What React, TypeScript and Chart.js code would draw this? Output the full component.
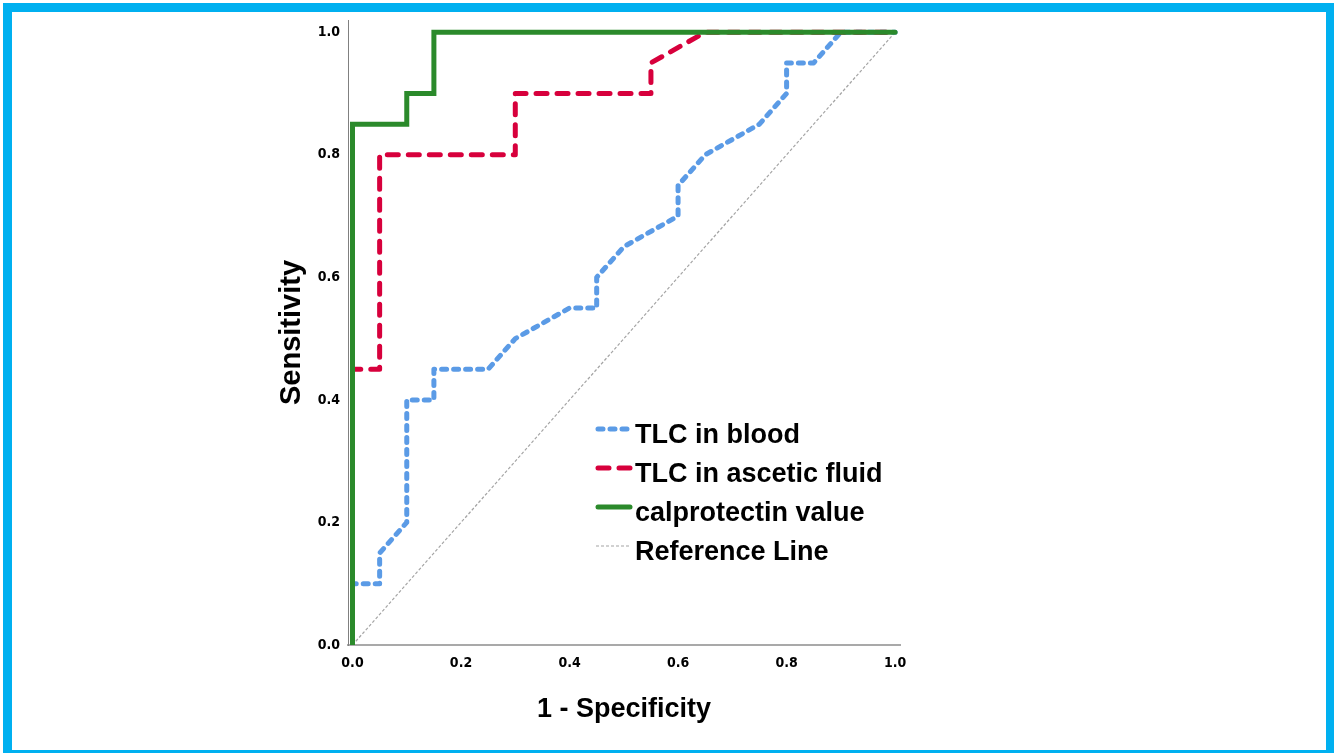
import React, { useEffect, useRef } from 'react';
import { Chart, registerables } from 'chart.js';

Chart.register(...registerables);

// ROC curve data (1 - specificity, sensitivity)
const bloodFpr = [0, 0, 0.05, 0.05, 0.1, 0.1, 0.15, 0.15, 0.25, 0.3, 0.4, 0.45, 0.45, 0.5, 0.6, 0.6, 0.65, 0.75, 0.8, 0.8, 0.85, 0.9, 1];
const bloodTpr = [0, 0.1, 0.1, 0.15, 0.2, 0.4, 0.4, 0.45, 0.45, 0.5, 0.55, 0.55, 0.6, 0.65, 0.7, 0.75, 0.8, 0.85, 0.9, 0.95, 0.95, 1, 1];
const fluidFpr = [0, 0, 0.05, 0.05, 0.3, 0.3, 0.55, 0.55, 0.65, 1];
const fluidTpr = [0, 0.45, 0.45, 0.8, 0.8, 0.9, 0.9, 0.95, 1, 1];
const calproFpr = [0, 0, 0.1, 0.1, 0.15, 0.15, 1];
const calproTpr = [0, 0.85, 0.85, 0.9, 0.9, 1, 1];
const refFpr = [0, 1];
const refTpr = [0, 1];

const tickValues = [0, 0.2, 0.4, 0.6, 0.8, 1];
const tickLabels = ['0.0', '0.2', '0.4', '0.6', '0.8', '1.0'];

const seriesLabels = ['TLC in blood', 'TLC in ascetic fluid', 'calprotectin value', 'Reference Line'];
const seriesColors = ['#5b9be6', '#d7003c', '#2b8a2b', '#a4a4a4'];
const seriesWidths = [5, 5, 5, 1.2];
const seriesDashes: number[][] = [[5, 7], [11, 10], [], [3, 2]];
const seriesCaps = ['round', 'round', 'round', 'butt'];
const seriesJoins = ['round', 'round', 'miter', 'miter'];
const seriesOrder = [2, 1, 0, 3];

const xTitle = '1 - Specificity';
const yTitle = 'Sensitivity';

const SANS = '"Liberation Sans", Arial, Helvetica, sans-serif';
const NARROW = '"Liberation Sans Narrow", "Arial Narrow", "DejaVu Sans Condensed", sans-serif';

const legendPlugin = {
  id: 'rocLegend',
  afterDatasetsDraw(chart: any) {
    const ctx = chart.ctx as CanvasRenderingContext2D;
    const x0 = 597;
    const x1 = 631;
    const textX = 635;
    const firstY = 429;
    const step = 39;
    ctx.save();
    seriesLabels.forEach((label, i) => {
      const y = firstY + i * step;
      ctx.beginPath();
      ctx.strokeStyle = seriesColors[i];
      ctx.lineWidth = seriesWidths[i];
      ctx.setLineDash(seriesDashes[i]);
      ctx.lineCap = seriesCaps[i] as CanvasLineCap;
      const xa = i === 3 ? 596 : x0 + (seriesCaps[i] === 'round' ? 1 : 0);
      const xb = i === 3 ? 629 : x1 - (seriesCaps[i] === 'round' ? 1 : 0);
      ctx.moveTo(xa, y);
      ctx.lineTo(xb, y);
      ctx.stroke();
      ctx.setLineDash([]);
      ctx.fillStyle = '#000';
      ctx.font = `bold 27px ${SANS}`;
      ctx.textAlign = 'left';
      ctx.textBaseline = 'alphabetic';
      ctx.fillText(label, textX, y + 14);
    });
    ctx.restore();
  },
};

export default function App() {
  const canvasRef = useRef<HTMLCanvasElement>(null);

  useEffect(() => {
    const toPts = (xs: number[], ys: number[]) => xs.map((x, i) => ({ x, y: ys[i] }));
    const series = [
      toPts(bloodFpr, bloodTpr),
      toPts(fluidFpr, fluidTpr),
      toPts(calproFpr, calproTpr),
      toPts(refFpr, refTpr),
    ];
    const datasets = series.map((data, i) => ({
      label: seriesLabels[i],
      data,
      borderColor: seriesColors[i],
      backgroundColor: seriesColors[i],
      borderWidth: seriesWidths[i],
      borderDash: seriesDashes[i],
      borderCapStyle: seriesCaps[i],
      borderJoinStyle: seriesJoins[i],
      pointRadius: 0,
      fill: false,
      tension: 0,
      order: seriesOrder[i],
    }));

    const chart = new Chart(canvasRef.current!, {
      type: 'line',
      data: { datasets: datasets as any },
      options: {
        animation: false,
        responsive: true,
        maintainAspectRatio: false,
        layout: { padding: { left: 275, right: 434, top: 20, bottom: 27 } },
        plugins: {
          legend: { display: false },
          tooltip: { enabled: false },
        },
        scales: {
          x: {
            type: 'linear',
            position: 'bottom',
            min: -0.0083,
            max: 1.009,
            afterBuildTicks: (s: any) => {
              s.ticks = tickValues.map((v) => ({ value: v }));
            },
            afterFit: (s: any) => {
              s.height = 81;
            },
            grid: { display: false, drawTicks: false },
            border: { display: true, color: '#a9a9a9', width: 2 },
            ticks: {
              autoSkip: false,
              maxRotation: 0,
              padding: 10,
              color: '#000',
              font: { family: NARROW, size: 14, weight: 'bold' },
              callback: (v: any) => tickLabels[tickValues.indexOf(Number(v))] ?? '',
            },
            title: {
              display: true,
              text: xTitle,
              color: '#000',
              padding: 0,
              font: { family: SANS, size: 27, weight: 'bold' },
            },
          },
          y: {
            type: 'linear',
            position: 'left',
            min: 0,
            max: 1.02,
            afterBuildTicks: (s: any) => {
              s.ticks = tickValues.map((v) => ({ value: v }));
            },
            afterFit: (s: any) => {
              s.width = 73;
            },
            grid: { display: false, drawTicks: false },
            border: { display: true, color: '#808080', width: 1 },
            ticks: {
              autoSkip: false,
              padding: 8,
              color: '#000',
              font: { family: NARROW, size: 14, weight: 'bold' },
              callback: (v: any) => tickLabels[tickValues.indexOf(Number(v))] ?? '',
            },
            title: {
              display: true,
              text: yTitle,
              color: '#000',
              padding: 0,
              font: { family: SANS, size: 29, weight: 'bold' },
            },
          },
        },
      },
      plugins: [legendPlugin],
    });
    return () => chart.destroy();
  }, []);

  return (
    <div style={{ position: 'fixed', left: 0, top: 0, width: 1334, height: 753, background: '#fff', overflow: 'hidden' }}>
      <div style={{ position: 'absolute', left: 0, top: 0, width: 1334, height: 753 }}>
        <canvas ref={canvasRef} />
      </div>
      <div
        style={{
          position: 'absolute',
          left: 3,
          top: 3,
          width: 1331,
          height: 750,
          boxSizing: 'border-box',
          borderStyle: 'solid',
          borderColor: '#00b0f0',
          borderWidth: '9px 8px 3px 9px',
          pointerEvents: 'none',
        }}
      />
    </div>
  );
}
